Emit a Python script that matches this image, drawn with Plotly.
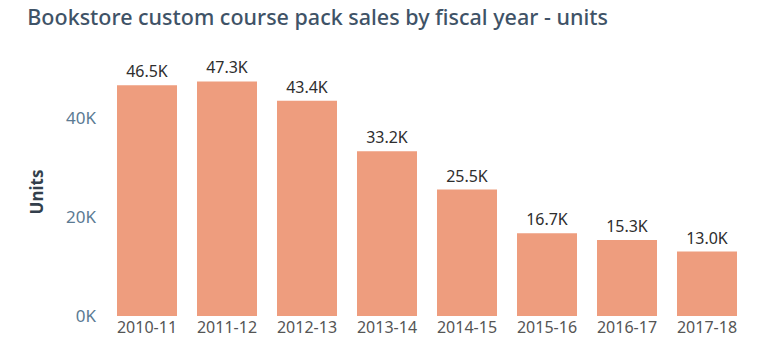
import plotly.graph_objects as go

years = ["2010-11", "2011-12", "2012-13", "2013-14", "2014-15", "2015-16", "2016-17", "2017-18"]
units_k = [46.5, 47.3, 43.4, 33.2, 25.5, 16.7, 15.3, 13.0]
y_ticks = [0, 20, 40]
y_tick_labels = ["0K", "20K", "40K"]

font_family = "Noto Sans, Open Sans, sans-serif"

fig = go.Figure(go.Bar(
    x=years, y=units_k,
    marker=dict(color="#EE9D7E", line=dict(width=0)),
    texttemplate="%{y:.1f}K", textposition="outside",
    textfont=dict(size=16, color="#2e2e2e", family=font_family),
    cliponaxis=False,
))

fig.update_layout(
    width=780, height=350,
    margin=dict(l=107, r=33, t=68, b=27),
    plot_bgcolor="white", paper_bgcolor="white",
    bargap=0.25,
    showlegend=False,
    title=dict(text="Bookstore custom course pack sales by fiscal year - units",
               x=0.035, xanchor="left", y=0.95, yanchor="middle",
               font=dict(size=21.5, color="#3f5367", family=font_family, weight=500)),
    xaxis=dict(type="category", showgrid=False, showline=False, ticks="",
               tickfont=dict(size=16, color="#555555", family=font_family)),
    yaxis=dict(range=[0, 50], tickvals=y_ticks, ticktext=y_tick_labels,
               showgrid=False, zeroline=False, showline=False, ticks="",
               ticklabelstandoff=10,
               tickfont=dict(size=17, color="#5b7a93", family=font_family),
               title=dict(text="Units", standoff=18,
                          font=dict(size=17, color="#333f4c", family=font_family, weight="bold"))),
)

fig.write_html("out.html")
